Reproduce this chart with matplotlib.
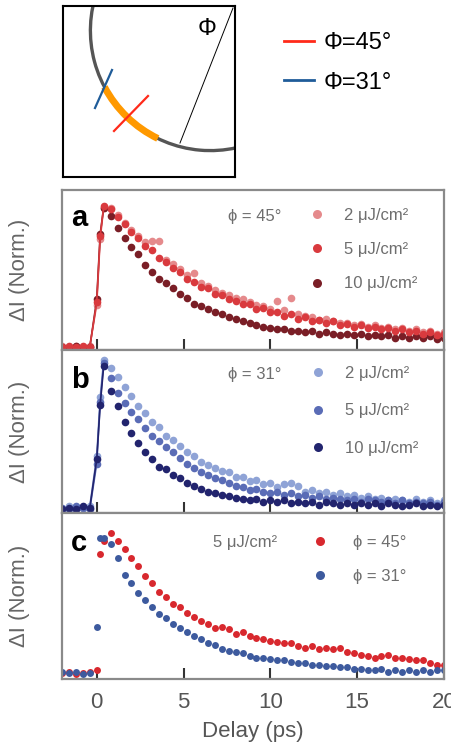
import matplotlib
matplotlib.use('Agg')
import matplotlib.pyplot as plt
from matplotlib.patches import Arc
from matplotlib.lines import Line2D

plt.rcParams['font.family'] = ['Liberation Sans', 'DejaVu Sans']

W_PX, H_PX = 452, 750


def fx(x):
    return x / W_PX


def fy(y):
    return 1 - y / H_PX


# ---- data ----
delay = [-2.0, -1.6, -1.2, -0.8, -0.4, 0.0, 0.2,
         0.4, 0.8, 1.2, 1.6, 2.0, 2.4, 2.8, 3.2, 3.6, 4.0,
         4.4, 4.8, 5.2, 5.6, 6.0, 6.4, 6.8, 7.2, 7.6, 8.0,
         8.4, 8.8, 9.2, 9.6, 10.0, 10.4, 10.8, 11.2, 11.6, 12.0,
         12.4, 12.8, 13.2, 13.6, 14.0, 14.4, 14.8, 15.2, 15.6, 16.0,
         16.4, 16.8, 17.2, 17.6, 18.0, 18.4, 18.8, 19.2, 19.6, 20.0]

# panel a, phi = 45 deg
a_2uj = [-0.02, -0.03, -0.02, -0.03, -0.02, 0.28, 0.76,
         0.99, 0.99, 0.94, 0.88, 0.83, 0.78, 0.74, 0.75, 0.75, 0.61,
         0.58, 0.54, 0.50, 0.51, 0.44, 0.42, 0.39, 0.37, 0.35, 0.33,
         0.32, 0.30, 0.28, 0.27, 0.25, 0.31, 0.24, 0.33, 0.21, 0.20,
         0.19, 0.17, 0.18, 0.16, 0.15, 0.15, 0.13, 0.14, 0.12, 0.13,
         0.11, 0.12, 0.10, 0.11, 0.09, 0.10, 0.08, 0.09, 0.07, 0.08]
a_5uj = [-0.03, -0.02, -0.03, -0.02, -0.03, 0.30, 0.78,
         1.00, 0.98, 0.92, 0.87, 0.81, 0.77, 0.71, 0.68, 0.62, 0.59,
         0.55, 0.52, 0.47, 0.45, 0.41, 0.40, 0.36, 0.35, 0.32, 0.31,
         0.29, 0.29, 0.25, 0.26, 0.23, 0.23, 0.20, 0.21, 0.18, 0.19,
         0.16, 0.17, 0.15, 0.16, 0.13, 0.14, 0.12, 0.13, 0.11, 0.12,
         0.10, 0.11, 0.09, 0.10, 0.08, 0.09, 0.07, 0.08, 0.06, 0.07]
a_10uj = [-0.03, -0.03, -0.02, -0.03, -0.03, 0.32, 0.80,
          0.99, 0.93, 0.84, 0.77, 0.70, 0.65, 0.57, 0.52, 0.47, 0.44,
          0.40, 0.36, 0.33, 0.29, 0.27, 0.25, 0.23, 0.21, 0.19, 0.18,
          0.16, 0.15, 0.13, 0.12, 0.11, 0.10, 0.10, 0.09, 0.09, 0.08,
          0.09, 0.07, 0.08, 0.07, 0.06, 0.07, 0.06, 0.07, 0.05, 0.06,
          0.05, 0.06, 0.04, 0.05, 0.04, 0.05, 0.04, 0.05, 0.03, 0.04]

# panel b, phi = 31 deg
b_2uj = [-0.01, 0.01, -0.01, 0.00, 0.01, 0.35, 0.75,
         1.00, 0.95, 0.89, 0.82, 0.76, 0.69, 0.64, 0.58, 0.55, 0.49,
         0.46, 0.42, 0.38, 0.35, 0.31, 0.29, 0.27, 0.25, 0.24, 0.21,
         0.21, 0.18, 0.19, 0.16, 0.17, 0.14, 0.16, 0.17, 0.15, 0.11,
         0.12, 0.10, 0.11, 0.09, 0.10, 0.08, 0.09, 0.07, 0.08, 0.06,
         0.07, 0.05, 0.06, 0.05, 0.04, 0.06, 0.04, 0.05, 0.03, 0.05]
b_5uj = [0.00, -0.01, 0.01, 0.00, -0.01, 0.30, 0.72,
         0.98, 0.88, 0.78, 0.71, 0.65, 0.60, 0.54, 0.49, 0.45, 0.41,
         0.38, 0.34, 0.30, 0.27, 0.24, 0.22, 0.20, 0.19, 0.17, 0.15,
         0.14, 0.12, 0.13, 0.11, 0.10, 0.11, 0.09, 0.10, 0.08, 0.09,
         0.07, 0.08, 0.06, 0.07, 0.06, 0.05, 0.06, 0.04, 0.06, 0.05,
         0.04, 0.05, 0.03, 0.05, 0.03, 0.04, 0.03, 0.04, 0.02, 0.04]
b_10uj = [-0.01, 0.00, -0.01, 0.01, 0.00, 0.33, 0.70,
          0.96, 0.79, 0.69, 0.58, 0.51, 0.44, 0.38, 0.33, 0.28, 0.26,
          0.22, 0.20, 0.17, 0.15, 0.13, 0.11, 0.10, 0.09, 0.08, 0.07,
          0.06, 0.05, 0.06, 0.04, 0.05, 0.04, 0.05, 0.03, 0.04, 0.03,
          0.04, 0.02, 0.04, 0.03, 0.02, 0.03, 0.02, 0.03, 0.02, 0.03,
          0.01, 0.03, 0.02, 0.01, 0.02, 0.03, 0.01, 0.02, 0.01, 0.02]

# panel c, 5 uJ/cm2
c_45 = [0.00, 0.01, -0.01, 0.00, 0.01, 0.02, 0.85,
        0.94, 1.00, 0.94, 0.88, 0.82, 0.76, 0.69, 0.64, 0.58, 0.54,
        0.49, 0.47, 0.43, 0.40, 0.37, 0.35, 0.32, 0.33, 0.31, 0.28,
        0.29, 0.26, 0.25, 0.24, 0.23, 0.22, 0.21, 0.21, 0.19, 0.18,
        0.19, 0.17, 0.18, 0.17, 0.18, 0.15, 0.14, 0.13, 0.12, 0.11,
        0.12, 0.13, 0.11, 0.11, 0.10, 0.09, 0.09, 0.07, 0.06, 0.06]
c_31 = [0.01, 0.00, 0.01, -0.01, 0.00, 0.33, 0.96,
        0.96, 0.92, 0.82, 0.70, 0.64, 0.57, 0.52, 0.47, 0.42, 0.39,
        0.35, 0.32, 0.29, 0.26, 0.24, 0.21, 0.20, 0.17, 0.16, 0.15,
        0.14, 0.12, 0.11, 0.11, 0.10, 0.09, 0.09, 0.08, 0.07, 0.07,
        0.06, 0.06, 0.05, 0.05, 0.045, 0.04, 0.03, 0.03, 0.02, 0.02,
        0.03, 0.01, 0.02, 0.01, 0.02, 0.01, 0.02, 0.01, 0.02, 0.02]

fluence_labels = ['2 μJ/cm²', '5 μJ/cm²', '10 μJ/cm²']
angle_labels = ['ϕ = 45°', 'ϕ = 31°']
xticks = [0, 5, 10, 15, 20]

red_cols = ['#e58a8c', '#d93a3e', '#7a1e26']
blue_cols = ['#8fa3d6', '#5a6cb6', '#22246e']
c_cols = ['#d8282e', '#3d5a9e']
GRAY = '#6e6e6e'
RISE = 8  # points up to the peak, drawn joined by a line

fig = plt.figure(figsize=(4.52, 7.5), dpi=100)

# ---- schematic inset ----
ins = fig.add_axes([fx(63), fy(177), 172 / W_PX, 171 / H_PX])
ins.set_xlim(0, 172)
ins.set_ylim(171, 0)
ins.set_xticks([])
ins.set_yticks([])
for s in ins.spines.values():
    s.set_color('black')
    s.set_linewidth(1.5)
ins.add_patch(Arc((147.4, 24.6), 240, 240, theta1=60, theta2=200,
                  color='#555555', lw=2.4))
ins.add_patch(Arc((147.4, 24.6), 240, 240, theta1=116, theta2=152,
                  color='#ff9900', lw=5, capstyle='butt'))
ins.plot([170, 117], [2, 137], color='black', lw=0.7)
ins.plot([32, 49], [102, 64], color='#1f5c99', lw=1.6)
ins.plot([51, 85], [125, 90], color='#ff2a1a', lw=1.6)
ins.text(144, 23, 'Φ', fontsize=17, ha='center', va='center')

top_handles = [Line2D([], [], color='#ff2a1a', lw=2),
               Line2D([], [], color='#1f5c99', lw=2)]
fig.legend(top_handles, ['Φ=45°', 'Φ=31°'], loc='upper left',
           bbox_to_anchor=(fx(284), fy(32)), bbox_transform=fig.transFigure,
           frameon=False, fontsize=17, handlelength=1.27, handletextpad=0.42,
           labelspacing=0.75, borderpad=0, borderaxespad=0)

# ---- data panels ----
L, W = fx(62), 382 / W_PX
ax_a = fig.add_axes([L, fy(350), W, 160 / H_PX])
ax_b = fig.add_axes([L, fy(513), W, 163 / H_PX])
ax_c = fig.add_axes([L, fy(679), W, 166 / H_PX])


def style(ax, ylim, letter, letter_y):
    ax.set_xlim(-2, 20)
    ax.set_ylim(*ylim)
    ax.set_yticks([])
    ax.set_xticks(xticks)
    ax.tick_params(axis='x', direction='in', length=8, width=1.5,
                   color='#333333', labelsize=16, labelcolor='#555555', pad=9)
    for s in ax.spines.values():
        s.set_color('#8a8a8a')
        s.set_linewidth(1.6)
    ax.set_ylabel('ΔI (Norm.)', fontsize=16, color='#666666')
    ax.yaxis.set_label_coords(-0.084, 0.5)
    fig.text(fx(71), fy(letter_y), letter, fontsize=21, fontweight='bold',
             ha='left', va='baseline', zorder=10,
             bbox=dict(facecolor='white', edgecolor='none', pad=2.5))


def legend(ax, handles, labels, x, y, spacing, textpad):
    ax.legend(handles, labels, loc='upper left',
              bbox_to_anchor=(fx(x), fy(y)), bbox_transform=fig.transFigure,
              frameon=False, fontsize=12, labelcolor=GRAY, handlelength=0.8,
              handletextpad=textpad, labelspacing=spacing, borderpad=0,
              borderaxespad=0)


def dots(cols):
    return [Line2D([], [], ls='none', marker='o', ms=6.5, mew=0, color=c)
            for c in cols]


def trace(ax, vals, col):
    ax.plot(delay[:RISE], vals[:RISE], '-', color=col, lw=1.2)
    ax.plot(delay, vals, 'o', color=col, ms=5.5, mew=0)


# a
for vals, col in zip([a_2uj, a_10uj, a_5uj], [red_cols[0], red_cols[2], red_cols[1]]):
    trace(ax_a, vals, col)
style(ax_a, (-0.05, 1.12), 'a', 226)
ax_a.text(fx(255), fy(216), angle_labels[0], transform=fig.transFigure,
          fontsize=12, color=GRAY, ha='center', va='center')
legend(ax_a, dots(red_cols), fluence_labels, 310, 208, 1.15, 1.25)

# b
for vals, col in zip([b_2uj, b_5uj, b_10uj], blue_cols):
    trace(ax_b, vals, col)
style(ax_b, (-0.035, 1.07), 'b', 388)
ax_b.text(fx(255), fy(375), angle_labels[1], transform=fig.transFigure,
          fontsize=12, color=GRAY, ha='center', va='center')
legend(ax_b, dots(blue_cols), fluence_labels, 311, 366, 1.35, 1.25)

# c
for vals, col in zip([c_45, c_31], c_cols):
    ax_c.plot(delay, vals, 'o', color=col, ms=5, mew=0)
style(ax_c, (-0.043, 1.14), 'c', 551)
ax_c.text(fx(245), fy(542), fluence_labels[1], transform=fig.transFigure,
          fontsize=12, color=GRAY, ha='center', va='center')
legend(ax_c, dots(c_cols), angle_labels, 313, 535, 1.15, 1.6)
ax_c.set_xlabel('Delay (ps)', fontsize=16, color='#555555', labelpad=6)

for ax in (ax_a, ax_b):
    ax.tick_params(axis='x', labelbottom=False)

fig.savefig('out.png', dpi=100)
